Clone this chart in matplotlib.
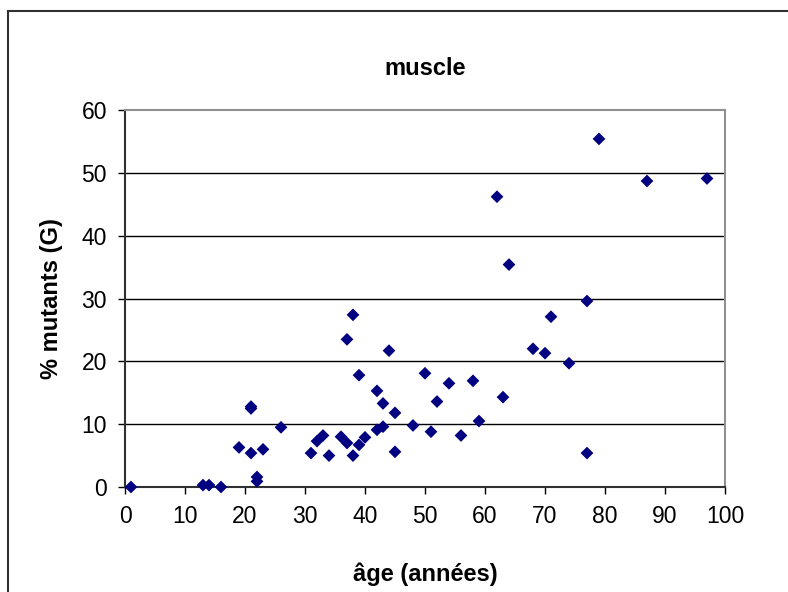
import numpy as np
import matplotlib
matplotlib.use("Agg")
import matplotlib.pyplot as plt
from matplotlib.lines import Line2D

plt.rcParams['font.family'] = ['Liberation Sans', 'DejaVu Sans']

# age (years) and % mutants
age = [1, 13, 14, 16, 19, 21, 21, 21, 22, 22, 23, 26,
       31, 32, 33, 34, 36, 37, 37, 38, 38, 39, 39, 40,
       42, 42, 43, 43, 44, 45, 45, 48, 50, 51, 52, 54,
       56, 58, 59, 62, 63, 64, 68, 70, 71, 74, 77, 77,
       79, 87, 97]
mutants = [0.0, 0.3, 0.3, 0.0, 6.3, 12.5, 12.8, 5.4, 1.6, 0.9, 6.0, 9.5,
           5.4, 7.3, 8.2, 5.0, 8.0, 7.0, 23.5, 27.4, 5.0, 17.8, 6.7, 7.9,
           15.3, 9.1, 13.3, 9.6, 21.7, 11.8, 5.6, 9.8, 18.1, 8.8, 13.6, 16.5,
           8.2, 16.9, 10.5, 46.2, 14.3, 35.4, 22.0, 21.3, 27.1, 19.7, 29.6, 5.4,
           55.4, 48.7, 49.1]

xticks = np.arange(0, 101, 10)
yticks = np.arange(0, 61, 10)

fig = plt.figure(figsize=(7.88, 5.92), dpi=100)
ax = fig.add_axes([125 / 788, 1 - 487 / 592, 600 / 788, 377 / 592])

ax.scatter(age, mutants, marker='D', s=6.5 ** 2, color='#000080',
           edgecolors='none', zorder=3, clip_on=False)

ax.set_xlim(0, 100)
ax.set_ylim(0, 60)
ax.set_xticks(xticks)
ax.set_yticks(yticks)
ax.tick_params(direction='out', length=5, width=1, colors='black',
               labelsize=16.5, pad=8)

for y in yticks[1:-1]:
    ax.axhline(y, color='black', lw=1, zorder=1)

ax.spines['left'].set_color('#303030')
ax.spines['bottom'].set_color('#303030')
ax.spines['left'].set_linewidth(1.5)
ax.spines['bottom'].set_linewidth(1.5)
ax.spines['top'].set_color('#909090')
ax.spines['right'].set_color('#909090')
ax.spines['top'].set_linewidth(1.5)
ax.spines['right'].set_linewidth(1.5)

ax.set_title("muscle", fontsize=17, fontweight='bold', pad=25)
ax.set_xlabel("âge (années)", fontsize=17, fontweight='bold', labelpad=25)
ax.set_ylabel("% mutants (G)", fontsize=17, fontweight='bold', labelpad=13)

# outer chart frame (only the left and top edges are visible)
fig.add_artist(Line2D([8 / 788, 8 / 788], [0, 1 - 11 / 592], color='#303030', lw=1.5))
fig.add_artist(Line2D([8 / 788, 1], [1 - 11 / 592, 1 - 11 / 592], color='#303030', lw=1.5))

fig.savefig("out.png", dpi=100)
